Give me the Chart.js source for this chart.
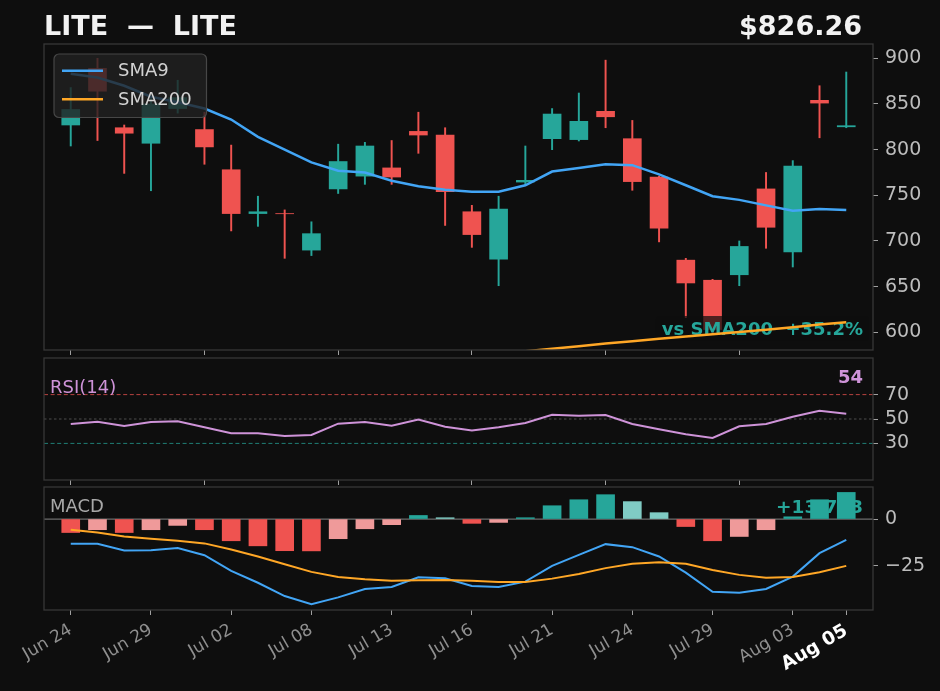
<!DOCTYPE html>
<html>
<head>
<meta charset="utf-8">
<script src="https://cdn.jsdelivr.net/npm/chart.js@4.4.1/dist/chart.umd.min.js"></script>
<style>
  html, body { margin: 0; padding: 0; background: #0e0e0e; }
  #wrap { position: relative; width: 940px; height: 691px; overflow: hidden; }
  canvas { position: absolute; left: 0; }
</style>
</head>
<body>
<div id="wrap">
  <canvas id="price" width="940" height="360" style="top:0px"></canvas>
  <canvas id="rsi" width="940" height="140" style="top:350px"></canvas>
  <canvas id="macd" width="940" height="211" style="top:480px"></canvas>
</div>
<script>
const TICKER = 'LITE';
const DATES = ['Jun 24', 'Jun 25', 'Jun 27', 'Jun 29', 'Jun 30', 'Jul 01', 'Jul 02', 'Jul 04', 'Jul 06', 'Jul 08',
               'Jul 09', 'Jul 11', 'Jul 13', 'Jul 14', 'Jul 15', 'Jul 16', 'Jul 18', 'Jul 20', 'Jul 21', 'Jul 22',
               'Jul 23', 'Jul 24', 'Jul 26', 'Jul 27', 'Jul 29', 'Jul 30', 'Aug 01', 'Aug 03', 'Aug 04', 'Aug 05'];

const OPEN  = [827, 889, 824, 807, 845, 822, 778, 730, 730, 690, 757, 771, 780, 820, 816, 732, 680, 764.5, 812, 811,
               842, 812, 770, 679, 657, 663, 757, 688, 854, 825];
const HIGH  = [868, 900, 827, 856, 876, 841, 805, 749, 734, 721, 806, 808, 810, 841, 824, 739, 749, 804, 845, 862,
               898, 832, 771, 681, 658, 700, 775, 788, 870, 885];
const LOW   = [804, 810, 774, 755, 840, 784, 711, 716, 681, 684, 752, 762, 762, 796, 717, 693, 651, 762, 800, 809.5,
               824, 755.5, 699, 616, 598, 651, 692, 671.5, 813, 824];
const CLOSE = [844, 864, 818, 850, 857, 803, 730, 732, 729.8, 708, 787, 804, 770, 816, 754, 707, 735, 766.4, 839, 831,
               836, 765, 714, 654, 603, 694, 715, 782, 851, 826.26];

const SMA9   = [883, 879, 870, 858, 852, 845, 833, 814, 800, 786, 777, 775, 766, 760, 756, 754, 754, 761, 776, 780,
                784, 783, 773, 761, 749, 745, 739, 733, 735, 734];
const SMA200 = [538.8, 540.9, 543.0, 545.1, 547.3, 549.5, 551.8, 554.1, 556.4, 558.8, 561.2, 563.6, 566.1, 568.6, 571.2,
                573.8, 576.5, 579.2, 582.0, 584.8, 587.6, 590.3, 592.8, 595.3, 597.8, 600.3, 602.9, 605.6, 608.4, 611.1];

const RSI = [45.9, 47.8, 44.3, 47.6, 48.1, 43.2, 38.3, 38.3, 36.1, 36.9, 46.2, 47.6, 44.5, 49.5, 43.7, 40.5, 43.3, 46.7,
             53.5, 52.7, 53.3, 45.9, 41.6, 37.5, 34.5, 44.0, 45.9, 51.9, 56.8, 54.4];

const MACD   = [-13.2, -13.2, -16.8, -16.6, -15.5, -19.3, -27.7, -34.0, -41.1, -45.4, -41.8, -37.3, -36.3, -31.1, -31.6,
                -35.7, -36.3, -33.4, -25.0, -19.1, -13.4, -15.0, -20.0, -28.6, -38.8, -39.3, -37.3, -30.7, -18.2, -11.1];
const SIGNAL = [-5.7, -7.2, -9.3, -10.5, -11.6, -13.0, -16.3, -20.0, -24.1, -28.2, -30.9, -32.1, -32.9, -32.7, -32.5,
                -33.0, -33.6, -33.6, -31.8, -29.3, -26.2, -23.9, -23.0, -23.9, -27.2, -29.8, -31.3, -30.9, -28.4, -25.0];
const HIST   = [-7.2, -5.7, -7.2, -5.7, -3.4, -5.7, -11.6, -14.3, -16.9, -17.0, -10.5, -5.2, -3.0, 1.9, 0.7,
                -2.3, -1.8, 0.7, 7.1, 10.3, 13.0, 9.3, 3.4, -4.0, -11.6, -9.3, -5.7, 1.2, 10.3, 14.2];
const MACD_LABEL = '+13.783';

const PRICE_TICKS = [600, 650, 700, 750, 800, 850, 900];
const RSI_TICKS = [30, 50, 70];
const MACD_TICKS = [-25, 0];
const TOP_XTICKS = [0, 5, 10, 15, 20, 25];
const BOTTOM_XTICKS = [0, 3, 6, 9, 12, 15, 18, 21, 24, 27, 29];

const UP = '#26a69a', DOWN = '#ef5350', UP_LIGHT = '#80cbc4', DOWN_LIGHT = '#ef9a9a';
const BLUE = '#42a5f5', ORANGE = '#ffa726', PLUM = '#ce93d8';
const FONT = '"DejaVu Sans"';

Chart.defaults.font.family = FONT;
Chart.defaults.animation = false;

const idx = CLOSE.map((_, i) => i);
const candleColor = idx.map(i => CLOSE[i] >= OPEN[i] ? UP : DOWN);

function xScale(ticks, showLabels, height) {
  const last = ticks.length - 1;
  return {
    type: 'linear', min: -1, max: 30, offset: false,
    grid: { display: true, drawOnChartArea: false, drawTicks: true, tickLength: 5, color: '#a0a0a0', offset: false },
    border: { display: false },
    afterBuildTicks: s => { s.ticks = ticks.map(v => ({ value: v })); },
    afterFit: s => { s.height = height; s.paddingLeft = 0; s.paddingRight = 0; s.paddingTop = 0; s.paddingBottom = 0; },
    ticks: {
      display: showLabels, autoSkip: false, minRotation: 30, maxRotation: 30, padding: 5,
      color: c => c.index === last ? '#ffffff' : '#8f8f8f',
      font: c => c.index === last ? { size: 18.5, weight: 'bold' } : { size: 17 },
      callback: v => DATES[v]
    }
  };
}

function yScale(min, max, ticks, fmt) {
  return {
    position: 'right', min: min, max: max,
    grid: { display: true, drawOnChartArea: false, drawTicks: true, tickLength: 5, color: '#a0a0a0' },
    border: { display: false },
    afterBuildTicks: s => { s.ticks = ticks.map(v => ({ value: v })); },
    afterFit: s => { s.width = 67; s.paddingTop = 0; s.paddingBottom = 0; s.paddingLeft = 0; s.paddingRight = 0; },
    ticks: { color: '#bdbdbd', font: { size: 19 }, padding: 7, callback: fmt || (v => v) }
  };
}

function frame(chart) {
  const a = chart.chartArea, c = chart.ctx;
  c.save();
  c.strokeStyle = '#383838';
  c.lineWidth = 1.3;
  c.strokeRect(a.left, a.top, a.right - a.left, a.bottom - a.top);
  c.restore();
}

function text(c, str, x, y, font, color, align) {
  c.save();
  c.font = font;
  c.fillStyle = color;
  c.textAlign = align || 'left';
  c.textBaseline = 'alphabetic';
  c.fillText(str, x, y);
  c.restore();
}

function hline(chart, value, color, dash, width) {
  const a = chart.chartArea, c = chart.ctx;
  const y = chart.scales.y.getPixelForValue(value);
  c.save();
  c.strokeStyle = color;
  c.lineWidth = width || 1;
  c.setLineDash(dash);
  c.beginPath();
  c.moveTo(a.left, y);
  c.lineTo(a.right, y);
  c.stroke();
  c.restore();
}

const common = {
  responsive: false,
  devicePixelRatio: 1,
  plugins: { legend: { display: false }, tooltip: { enabled: false } }
};

// price panel
const pricePlugin = {
  id: 'pricePlugin',
  beforeDatasetDraw(chart, args) {
    if (args.index !== 2) return;
    const c = chart.ctx;
    const pct = (CLOSE[CLOSE.length - 1] / SMA200[SMA200.length - 1] - 1) * 100;
    const str = 'vs SMA200  ' + (pct >= 0 ? '+' : '') + pct.toFixed(1) + '%';
    c.save();
    c.font = 'bold 18px ' + FONT;
    const w = c.measureText(str).width;
    c.fillStyle = 'rgba(14,14,14,0.72)';
    c.beginPath();
    c.roundRect(863 - w - 6, 316, w + 12, 25, 4);
    c.fill();
    c.restore();
    text(c, str, 863, 335, 'bold 18px ' + FONT, UP, 'right');
  },
  afterDatasetsDraw(chart) {
    const c = chart.ctx;
    c.save();
    c.fillStyle = 'rgba(34,34,34,0.8)';
    c.strokeStyle = '#474747';
    c.lineWidth = 1.2;
    c.beginPath();
    c.roundRect(54, 54, 152.5, 63.5, 5);
    c.fill();
    c.stroke();
    const items = [['SMA9', BLUE, 70.7], ['SMA200', ORANGE, 99.3]];
    items.forEach(([label, color, y]) => {
      c.strokeStyle = color;
      c.lineWidth = 2.5;
      c.beginPath();
      c.moveTo(62, y);
      c.lineTo(103, y);
      c.stroke();
      c.font = '18px ' + FONT;
      c.fillStyle = '#d2d2d2';
      c.textBaseline = 'middle';
      c.fillText(label, 118, y + 1);
    });
    c.restore();
  },
  afterDraw(chart) {
    frame(chart);
    const c = chart.ctx;
    text(c, TICKER + '  \u2014  ' + TICKER, 44, 34.5, 'bold 27px ' + FONT, '#f2f2f2');
    text(c, '$' + CLOSE[CLOSE.length - 1].toFixed(2), 862, 34.5, 'bold 27px ' + FONT, '#f2f2f2', 'right');
  }
};

new Chart(document.getElementById('price'), {
  type: 'bar',
  data: {
    datasets: [
      { label: 'wick', data: idx.map(i => ({ x: i, y: [LOW[i], HIGH[i]] })), backgroundColor: candleColor,
        barThickness: 1.3, grouped: false, borderWidth: 0, borderSkipped: false, order: 4 },
      { label: 'body', data: idx.map(i => ({ x: i, y: [OPEN[i], CLOSE[i]] })), backgroundColor: candleColor,
        barThickness: 18, grouped: false, borderWidth: 0, borderSkipped: false, order: 3 },
      { type: 'line', label: 'SMA200', data: idx.map(i => ({ x: i, y: SMA200[i] })), borderColor: ORANGE,
        borderWidth: 2.5, pointRadius: 0, tension: 0, order: 2 },
      { type: 'line', label: 'SMA9', data: idx.map(i => ({ x: i, y: SMA9[i] })), borderColor: BLUE,
        borderWidth: 2.5, pointRadius: 0, tension: 0, order: 1 }
    ]
  },
  options: Object.assign({}, common, {
    layout: { padding: { left: 44, top: 44, right: 0, bottom: 0 } },
    scales: { x: xScale(TOP_XTICKS, false, 10), y: yScale(580.6, 915.7, PRICE_TICKS) }
  }),
  plugins: [pricePlugin]
});

// RSI panel
const rsiPlugin = {
  id: 'rsiPlugin',
  beforeDatasetsDraw(chart) {
    hline(chart, 70, 'rgba(239,83,80,0.75)', [4, 2.6]);
    hline(chart, 50, '#4c4c4c', [2.5, 2.5]);
    hline(chart, 30, 'rgba(38,166,154,0.75)', [4, 2.6]);
  },
  afterDraw(chart) {
    frame(chart);
    const c = chart.ctx;
    text(c, 'RSI(14)', 50, 42.7, '18px ' + FONT, PLUM);
    text(c, Math.round(RSI[RSI.length - 1]).toString(), 863, 32.7, 'bold 18px ' + FONT, PLUM, 'right');
  }
};

new Chart(document.getElementById('rsi'), {
  type: 'line',
  data: {
    datasets: [
      { label: 'RSI', data: idx.map(i => ({ x: i, y: RSI[i] })), borderColor: PLUM, borderWidth: 2,
        pointRadius: 0, tension: 0 }
    ]
  },
  options: Object.assign({}, common, {
    layout: { padding: { left: 44, top: 8, right: 0, bottom: 0 } },
    scales: { x: xScale(TOP_XTICKS, false, 10), y: yScale(0, 100, RSI_TICKS) }
  }),
  plugins: [rsiPlugin]
});

// MACD panel
function histColor(ctx) {
  const i = ctx.dataIndex, h = HIST[i], prev = i > 0 ? HIST[i - 1] : null;
  if (h >= 0) return prev === null || h > prev ? UP : UP_LIGHT;
  return prev === null || h < prev ? DOWN : DOWN_LIGHT;
}

const macdPlugin = {
  id: 'macdPlugin',
  beforeDatasetsDraw(chart) {
    hline(chart, 0, '#6c6c6c', [], 1.3);
    text(chart.ctx, MACD_LABEL, 863, 33.3, 'bold 18.5px ' + FONT, UP, 'right');
  },
  afterDraw(chart) {
    frame(chart);
    text(chart.ctx, 'MACD', 50, 32.3, '18px ' + FONT, '#a8a8a8');
  }
};

new Chart(document.getElementById('macd'), {
  type: 'bar',
  data: {
    datasets: [
      { label: 'Hist', data: idx.map(i => ({ x: i, y: HIST[i] })), backgroundColor: histColor,
        barThickness: 18, grouped: false, borderWidth: 0, order: 3 },
      { type: 'line', label: 'MACD', data: idx.map(i => ({ x: i, y: MACD[i] })), borderColor: BLUE,
        borderWidth: 2, pointRadius: 0, tension: 0, order: 2 },
      { type: 'line', label: 'Signal', data: idx.map(i => ({ x: i, y: SIGNAL[i] })), borderColor: ORANGE,
        borderWidth: 2, pointRadius: 0, tension: 0, order: 1 }
    ]
  },
  options: Object.assign({}, common, {
    layout: { padding: { left: 44, top: 7, right: 0, bottom: 0 } },
    scales: {
      x: xScale(BOTTOM_XTICKS, true, 81),
      y: yScale(-48.55, 17.1, MACD_TICKS, v => v < 0 ? '\u2212' + Math.abs(v) : v)
    }
  }),
  plugins: [macdPlugin]
});
</script>
</body>
</html>
